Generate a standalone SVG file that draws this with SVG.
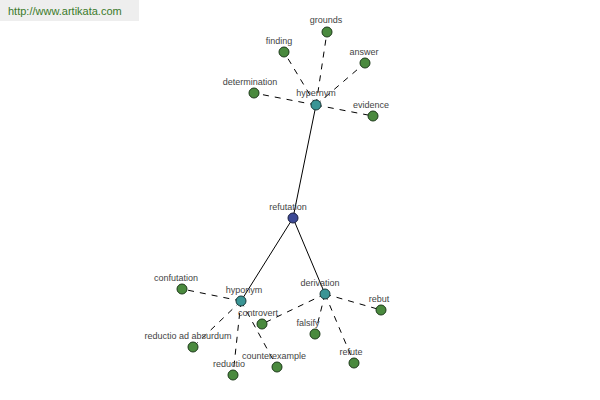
<svg xmlns="http://www.w3.org/2000/svg" width="600" height="400" viewBox="0 0 600 400">
<style>
text{font-family:"Liberation Sans",Arial,sans-serif;font-size:9px;fill:#444;text-anchor:middle}
.d{stroke:#000;stroke-width:1;stroke-dasharray:6,6;fill:none}
.s{stroke:#000;stroke-width:1;fill:none}
.leaf{fill:#4a8a3e;stroke:#1d3a1a;stroke-width:1}
.mid{fill:#3a9595;stroke:#1a3a3a;stroke-width:1}
.root{fill:#3d4a96;stroke:#1a1f40;stroke-width:1}
</style>
<rect x="0" y="0" width="600" height="400" fill="#fff"/>
<g id="watermark"><rect x="0" y="0" width="139" height="21" fill="#eeeeee"/><text x="8" y="15" style="text-anchor:start;font-size:11px;fill:#3a7a2a">http://www.artikata.com</text></g>
<g id="connectors">
<line class="s" x1="293" y1="218" x2="316" y2="105"/>
<line class="s" x1="293" y1="218" x2="241" y2="301"/>
<line class="s" x1="293" y1="218" x2="325" y2="294"/>
<line class="d" x1="316" y1="105" x2="327" y2="32"/>
<line class="d" x1="316" y1="105" x2="284" y2="52"/>
<line class="d" x1="316" y1="105" x2="365" y2="63"/>
<line class="d" x1="316" y1="105" x2="254" y2="93"/>
<line class="d" x1="316" y1="105" x2="373" y2="116"/>
<line class="d" x1="241" y1="301" x2="182" y2="289"/>
<line class="d" x1="241" y1="301" x2="193" y2="347"/>
<line class="d" x1="241" y1="301" x2="233" y2="375"/>
<line class="d" x1="241" y1="301" x2="277" y2="367"/>
<line class="d" x1="325" y1="294" x2="262" y2="324"/>
<line class="d" x1="325" y1="294" x2="381" y2="310"/>
<line class="d" x1="325" y1="294" x2="315" y2="334"/>
<line class="d" x1="325" y1="294" x2="354" y2="363"/>
</g>
<g id="refutation"><circle class="root" cx="293" cy="218" r="5"/><text x="288" y="210">refutation</text></g>
<g id="hypernym"><circle class="mid" cx="316" cy="105" r="5"/><text x="316" y="96">hypernym</text></g>
<g id="hyponym"><circle class="mid" cx="241" cy="301" r="5"/><text x="244" y="293">hyponym</text></g>
<g id="derivation"><circle class="mid" cx="325" cy="294" r="5"/><text x="320" y="286">derivation</text></g>
<g id="grounds"><circle class="leaf" cx="327" cy="32" r="5"/><text x="326" y="23">grounds</text></g>
<g id="finding"><circle class="leaf" cx="284" cy="52" r="5"/><text x="279" y="44">finding</text></g>
<g id="answer"><circle class="leaf" cx="365" cy="63" r="5"/><text x="364" y="55">answer</text></g>
<g id="determination"><circle class="leaf" cx="254" cy="93" r="5"/><text x="250" y="85">determination</text></g>
<g id="evidence"><circle class="leaf" cx="373" cy="116" r="5"/><text x="371" y="108">evidence</text></g>
<g id="confutation"><circle class="leaf" cx="182" cy="289" r="5"/><text x="176" y="281">confutation</text></g>
<g id="controvert"><circle class="leaf" cx="262" cy="324" r="5"/><text x="258" y="316">controvert</text></g>
<g id="reductio_ad_absurdum"><circle class="leaf" cx="193" cy="347" r="5"/><text x="188" y="339">reductio ad absurdum</text></g>
<g id="reductio"><circle class="leaf" cx="233" cy="375" r="5"/><text x="229" y="367">reductio</text></g>
<g id="counterexample"><circle class="leaf" cx="277" cy="367" r="5"/><text x="274" y="359">counterexample</text></g>
<g id="rebut"><circle class="leaf" cx="381" cy="310" r="5"/><text x="379" y="302">rebut</text></g>
<g id="falsify"><circle class="leaf" cx="315" cy="334" r="5"/><text x="308" y="326">falsify</text></g>
<g id="refute"><circle class="leaf" cx="354" cy="363" r="5"/><text x="351" y="355">refute</text></g>
</svg>
